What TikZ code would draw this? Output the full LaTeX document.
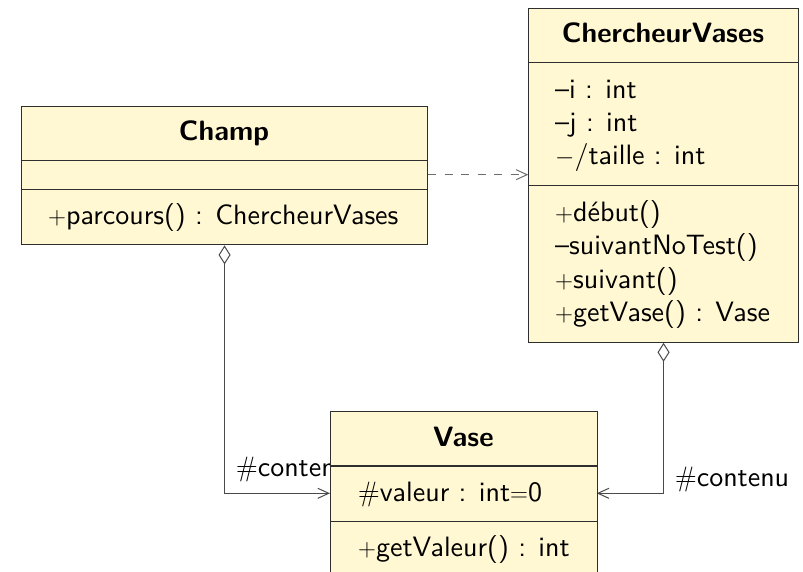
\documentclass[tikz,border=0pt]{standalone}
\usepackage{fontspec}
\setsansfont{lmsans10}[Extension=.otf, UprightFont=*-regular, BoldFont=*-bold]
\usetikzlibrary{arrows.meta}
\definecolor{boxfill}{HTML}{FFF8D3}
\definecolor{boxline}{HTML}{2E2E2E}
\definecolor{linkgray}{HTML}{4A4A4A}
\definecolor{depgray}{HTML}{6E6E6E}
\pgfdeclarelayer{back}
\pgfsetlayers{back,main}
\newcommand{\umlfont}{\sffamily\fontsize{28}{33}\selectfont}
\begin{document}
\begin{tikzpicture}[x=1pt,y=-1pt,
  font=\umlfont,
  classbox/.style={draw=boxline, fill=boxfill, line width=1.1pt, inner sep=0pt, anchor=north west},
  sep/.style={draw=boxline, line width=1.1pt},
  member/.style={anchor=base west, inner sep=0pt},
  classname/.style={anchor=base, inner sep=0pt, font=\umlfont\bfseries},
  role/.style={anchor=base west, inner sep=0pt},
  aggreg/.style={draw=linkgray, line width=1pt,
    {Diamond[open,length=19pt,width=12pt,line width=1pt]}-{Straight Barb[length=11pt,width=10pt,line width=1pt]}},
  depend/.style={draw=depgray, line width=1.6pt, dash pattern=on 8pt off 8.5pt,
    -{Straight Barb[length=11pt,width=10pt,line width=1pt]}}]
\useasboundingbox (0,0) rectangle (803,572);
\clip (0,0) rectangle (803,572);

% class Champ
\node[classbox, minimum width=406pt, minimum height=138.6pt] (champ) at (21,105.7) {};
\draw[sep] (21,160.7) -- (427,160.7);
\draw[sep] (21,189.3) -- (427,189.3);
\node[classname] (champname) at (224,141) {Champ};
\node[member] (parcours) at (48,224.3) {$+$parcours() : ChercheurVases};

% class ChercheurVases
\node[classbox, minimum width=269.4pt, minimum height=333.4pt] (cherch) at (528.3,8.3) {};
\draw[sep] (528.3,62.7) -- (797.7,62.7);
\draw[sep] (528.3,185.7) -- (797.7,185.7);
\node[classname] (cherchname) at (663,43) {ChercheurVases};
\node[member] (ai) at (555,98.3) {--i : int};
\node[member] (aj) at (555,131.6) {--j : int};
\node[member] (ataille) at (555,165) {$-$/taille : int};
\node[member] (mdebut) at (555,221.3) {$+$début()};
\node[member] (mnotest) at (555,254.6) {--suivantNoTest()};
\node[member] (msuivant) at (555,288) {$+$suivant()};
\node[member] (mgetvase) at (555,321.3) {$+$getVase() : Vase};

% class Vase (runs past the lower edge)
\node[classbox, minimum width=266.7pt, minimum height=200pt] (vase) at (330,411) {};
\draw[sep] (330,466) -- (596.7,466);
\draw[sep] (330,521.7) -- (596.7,521.7);
\node[classname] (vasename) at (463.3,446) {Vase};
\node[member] (avaleur) at (358,501.4) {$\#$valeur : int$=$0};
\node[member] (mgetvaleur) at (358,556.7) {$+$getValeur() : int};

% ends of the associations on the Vase box
\coordinate (vaseL) at (330,493.3);
\coordinate (vaseR) at (596.7,493.3);
\path (champ.north east) ++(0,69) coordinate (dep0);

\begin{pgfonlayer}{back}
  \draw[aggreg] (champ.south) |- (vaseL);
  \draw[aggreg] (cherch.south) |- (vaseR);
  \draw[depend] (dep0) -- (dep0 -| cherch.west);
  \node[role] (roleL) at (236,476) {$\#$contenu};
  \node[role] (roleR) at (675,486) {$\#$contenu};
\end{pgfonlayer}
\end{tikzpicture}
\end{document}
